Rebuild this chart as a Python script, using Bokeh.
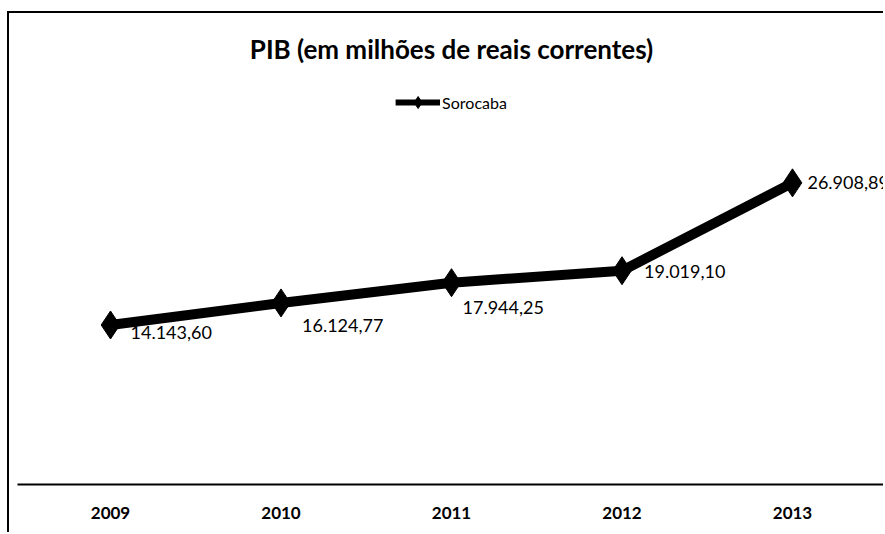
from bokeh.plotting import figure
from bokeh.models import (ColumnDataSource, Range1d, Legend, LegendItem,
                          FactorRange, CDSView, IndexFilter)
from bokeh.core.properties import value
from bokeh.embed import file_html
from bokeh.resources import INLINE

# ---- data ----
years = ["2009", "2010", "2011", "2012", "2013"]
pib = [14143.60, 16124.77, 17944.25, 19019.10, 26908.89]
series_name = "Sorocaba"
title_text = "PIB (em milhões de reais correntes)"

# label placement (screen pixel offsets, style only)
label_dx = [20, 21, 11, 22, 15]
label_dy = [8, 23, 25, 1, 0]


def br(v):
    s = f"{v:,.2f}"
    return s.replace(",", "X").replace(".", ",").replace("X", ".")


labels = [br(v) for v in pib]

src = ColumnDataSource(dict(x=years, y=pib, lab=labels, dx=label_dx, dy=label_dy))

p = figure(x_range=FactorRange(factors=years, range_padding=0.0182,
                               range_padding_units="percent"),
           y_range=Range1d(-180, 36100), width=876, height=521,
           output_backend="svg", toolbar_location=None,
           min_border_left=8, min_border_right=0,
           min_border_top=67, min_border_bottom=50)

p.title.text = title_text
p.title.align = "center"
p.title.text_font = "Lato"
p.title.text_font_size = "26px"
p.title.text_font_style = "bold"
p.title.text_color = "black"
p.title.standoff = 31

p.line("x", "y", source=src, line_color="black", line_width=10)
p.scatter("x", "y", source=src, marker="diamond", size=28,
          fill_color="black", line_color="black")
p.text("x", "y", text="lab", source=src, x_offset="dx", y_offset="dy",
       text_font=value("Lato"), text_font_size="18px", text_align="left",
       text_baseline="middle", text_color="black")

# legend glyphs (same series, legend-only styling; hidden under the main marker)
first = CDSView(filter=IndexFilter([0]))
lg_line = p.line("x", "y", source=src, view=first, line_color="black", line_width=6)
lg_pts = p.scatter("x", "y", source=src, view=first, marker="diamond", size=10,
                   fill_color="black", line_color="black")

legend = Legend(items=[LegendItem(label=series_name, renderers=[lg_line, lg_pts])],
                location="top_center", orientation="horizontal",
                border_line_color=None, background_fill_alpha=0,
                label_text_font="Lato", label_text_font_size="16px",
                label_text_color="black",
                glyph_width=45, glyph_height=30, label_height=30,
                label_standoff=2, padding=10, margin=7)
p.add_layout(legend)

p.xaxis.axis_line_color = "black"
p.xaxis.axis_line_width = 2
p.xaxis.major_tick_line_color = None
p.xaxis.major_label_text_font = "Lato"
p.xaxis.major_label_text_font_style = "bold"
p.xaxis.major_label_text_font_size = "17px"
p.xaxis.major_label_text_color = "black"
p.xaxis.major_label_standoff = 16
p.yaxis.visible = False
p.grid.visible = False
p.outline_line_color = None
p.styles = {"border-top": "2px solid black", "border-left": "2px solid black",
            "transform": "translate(7px, 11px)"}

open("out.html", "w").write(file_html(p, INLINE))
